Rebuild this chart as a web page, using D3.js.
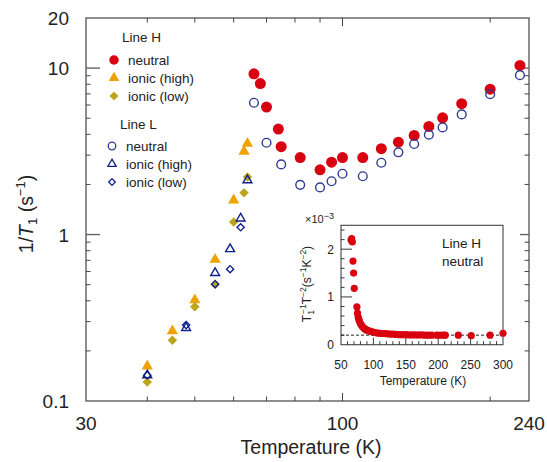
<!DOCTYPE html>
<html><head><meta charset="utf-8">
<script src="https://cdn.jsdelivr.net/npm/d3@7"></script>
<style>body{margin:0;background:#fff}svg{display:block}text{font-family:"Liberation Sans",Arial,sans-serif;fill:#222}</style>
</head><body><svg id="c" width="547" height="462"></svg>
<script>
// ---- data (main panel: 1/T1 in s^-1 vs temperature in K) ----
const hNeutralT = [66,68,70,74,75,82,90,95,100,110,120,130,140,150,160,175,200,230];
const hNeutralV = [9.24,8.08,5.83,4.30,3.37,2.90,2.45,2.72,2.90,2.90,3.28,3.59,3.94,4.46,5.03,6.11,7.47,10.37];
const hHighT = [40,45,50,55,60,63,64];
const hHighV = [0.162,0.263,0.404,0.708,1.61,3.16,3.52];
const hLowT = [40,45,50,55,60,63,64];
const hLowV = [0.130,0.232,0.368,0.503,1.19,1.78,2.22];
const lNeutralT = [66,70,75,82,90,95,100,110,120,130,140,150,160,175,200,230];
const lNeutralV = [6.19,3.56,2.64,1.99,1.92,2.09,2.32,2.24,2.70,3.12,3.50,3.98,4.40,5.27,6.97,9.07];
const lHighT = [40,48,55,59,62,64];
const lHighV = [0.143,0.275,0.588,0.818,1.25,2.12];
const lLowT = [40,48,55,59,62];
const lLowV = [0.143,0.286,0.503,0.619,1.106];
// inset: Line H neutral, T1^-1 T^-2 in units of 1e-3
const insetT = [65.5,66.5,67.5,68.5,69.5,70.5,74.5,75.5,76.5,77.5,78.5,80,81.5,83,85,87,89,91,93,95,98,101,104,107,110,114,118,122,126,130,135,140,145,150,155,160,165,170,175,180,185,190,198,203,208,211,231,251,280,300];
const insetV = [2.19,2.22,2.15,1.75,1.50,1.18,0.79,0.66,0.58,0.53,0.49,0.44,0.41,0.38,0.35,0.33,0.31,0.30,0.29,0.28,0.27,0.26,0.25,0.245,0.24,0.235,0.23,0.225,0.22,0.22,0.215,0.21,0.21,0.21,0.205,0.205,0.205,0.205,0.205,0.20,0.20,0.20,0.20,0.20,0.20,0.20,0.20,0.19,0.20,0.24];
const insetRef = 0.2;
// ticks
const xMajor = [100], xMinor = [40,50,60,70,80,90,200], xLabels = [30,100,240];
const yMajor = [1,10], yMinor = [0.2,0.3,0.4,0.5,0.6,0.7,0.8,0.9,2,3,4,5,6,7,8,9], yLabels = [0.1,1,10,20];
const ixMajor = [100,150,200,250], ixMinor = d3.range(60,300,10).filter(v=>v%50!==0), ixLabels = [50,100,150,200,250,300];
const iyMajor = [1,2], iyMinor = [0.2,0.4,0.6,0.8,1.2,1.4,1.6,1.8,2.2,2.4], iyLabels = [0,1,2];

const RED="#d90010", ORANGE="#eea300", OLIVE="#bba51c", NAVYC="#2f3b92", NAVY="#10208c", AX="#444";
const svg = d3.select("#c");
const x = d3.scaleLog().domain([30,240]).range([86,529]);
const y = d3.scaleLog().domain([0.1,20]).range([401,18]);
const L=86,R=529,T=18,B=401;

// frame
svg.append("rect").attr("x",L).attr("y",T).attr("width",R-L).attr("height",B-T).attr("fill","none").attr("stroke",AX).attr("stroke-width",1.2);
const tk = svg.append("g").attr("stroke",AX).attr("stroke-width",1);
xMinor.forEach(v=>{tk.append("line").attr("x1",x(v)).attr("x2",x(v)).attr("y1",B).attr("y2",B-4.5);
  tk.append("line").attr("x1",x(v)).attr("x2",x(v)).attr("y1",T).attr("y2",T+4.5);});
xMajor.forEach(v=>{tk.append("line").attr("x1",x(v)).attr("x2",x(v)).attr("y1",B).attr("y2",B-8);
  tk.append("line").attr("x1",x(v)).attr("x2",x(v)).attr("y1",T).attr("y2",T+8);});
yMinor.forEach(v=>{tk.append("line").attr("x1",L).attr("x2",L+4.5).attr("y1",y(v)).attr("y2",y(v));
  tk.append("line").attr("x1",R).attr("x2",R-4.5).attr("y1",y(v)).attr("y2",y(v));});
yMajor.forEach(v=>{tk.append("line").attr("x1",L).attr("x2",L+14).attr("y1",y(v)).attr("y2",y(v)).attr("stroke","#666").attr("stroke-width",1.4);
  tk.append("line").attr("x1",R).attr("x2",R-9).attr("y1",y(v)).attr("y2",y(v)).attr("stroke","#666").attr("stroke-width",1.4);});
xLabels.forEach(v=>svg.append("text").attr("x",x(v)).attr("y",430).attr("text-anchor","middle").attr("font-size",19).text(v));
yLabels.forEach(v=>svg.append("text").attr("x",69).attr("y",y(v)+7).attr("text-anchor","end").attr("font-size",19).text(v));
svg.append("text").attr("x",311).attr("y",454).attr("text-anchor","middle").attr("font-size",19.5).text("Temperature (K)");
const yl = svg.append("text").attr("transform","translate(33,214) rotate(-90)").attr("text-anchor","middle").attr("font-size",19.5);
yl.append("tspan").text("1/");
yl.append("tspan").attr("font-style","italic").text("T");
yl.append("tspan").attr("font-size",13).attr("dy",4).text("1");
yl.append("tspan").attr("dy",-4).text(" (s");
yl.append("tspan").attr("font-size",13).attr("dy",-8).text("\u22121");
yl.append("tspan").attr("dy",8).text(")");

// markers
function sym(type,size,rot){const p=d3.symbol().type(type).size(size)();return p;}
function draw(Ts,Vs,type,size,fill,stroke,sw,rot){
  const g=svg.append("g");
  Ts.forEach((t,i)=>g.append("path").attr("d",sym(type,size)).attr("transform",`translate(${x(t)},${y(Vs[i])}) rotate(${rot||0})`)
    .attr("fill",fill).attr("stroke",stroke).attr("stroke-width",sw));
}
draw(hNeutralT,hNeutralV,d3.symbolCircle,95,RED,"none",0);
draw(hHighT,hHighV,d3.symbolTriangle,55,ORANGE,"none",0);
draw(hLowT,hLowV,d3.symbolSquare,45,OLIVE,"none",0,45);
draw(lNeutralT,lNeutralV,d3.symbolCircle,60,"none",NAVYC,1.4);
draw(lHighT,lHighV,d3.symbolTriangle,34,"none",NAVY,1.4);
draw(lLowT,lLowV,d3.symbolSquare,26,"none",NAVY,1.4,45);

// legend
const lg = svg.append("g").attr("font-size",13.5);
function lgItem(yy,type,size,fill,stroke,sw,rot,label,tx){
  lg.append("path").attr("d",sym(type,size)).attr("transform",`translate(${tx-14},${yy}) rotate(${rot||0})`).attr("fill",fill).attr("stroke",stroke).attr("stroke-width",sw);
  lg.append("text").attr("x",tx).attr("y",yy+5).text(label);
}
lg.append("text").attr("x",122).attr("y",42).text("Line H");
lgItem(60,d3.symbolCircle,70,RED,"none",0,0,"neutral",128);
lgItem(78,d3.symbolTriangle,50,ORANGE,"none",0,0,"ionic (high)",128);
lgItem(96,d3.symbolSquare,40,OLIVE,"none",0,45,"ionic (low)",128);
lg.append("text").attr("x",120).attr("y",129).text("Line L");
lgItem(146,d3.symbolCircle,45,"none",NAVYC,1.3,0,"neutral",126);
lgItem(164,d3.symbolTriangle,30,"none",NAVY,1.3,0,"ionic (high)",126);
lgItem(182,d3.symbolSquare,22,"none",NAVY,1.3,45,"ionic (low)",126);

// inset
const ix = d3.scaleLinear().domain([50,300]).range([341,503]);
const iy = d3.scaleLinear().domain([0,2.5]).range([344.7,225.3]);
const IL=341,IR=503,IT=225.3,IB=344.7;
svg.append("rect").attr("x",IL).attr("y",IT).attr("width",IR-IL).attr("height",IB-IT).attr("fill","#fff").attr("stroke",AX).attr("stroke-width",1.1);
const it = svg.append("g").attr("stroke","#222").attr("stroke-width",0.9);
ixMinor.forEach(v=>it.append("line").attr("x1",ix(v)).attr("x2",ix(v)).attr("y1",IB).attr("y2",IB-3.5));
ixMajor.forEach(v=>it.append("line").attr("x1",ix(v)).attr("x2",ix(v)).attr("y1",IB).attr("y2",IB-7));
iyMinor.forEach(v=>it.append("line").attr("x1",IL).attr("x2",IL+3.5).attr("y1",iy(v)).attr("y2",iy(v)));
iyMajor.forEach(v=>it.append("line").attr("x1",IL).attr("x2",IL+11).attr("y1",iy(v)).attr("y2",iy(v)));
svg.append("line").attr("x1",ix(50)).attr("x2",ix(300)).attr("y1",iy(insetRef)).attr("y2",iy(insetRef)).attr("stroke","#222").attr("stroke-width",1).attr("stroke-dasharray","3,2");
ixLabels.forEach(v=>svg.append("text").attr("x",ix(v)).attr("y",369).attr("text-anchor","middle").attr("font-size",12).text(v));
iyLabels.forEach(v=>svg.append("text").attr("x",334).attr("y",iy(v)+4.5).attr("text-anchor","end").attr("font-size",12).text(v));
svg.append("text").attr("x",423).attr("y",385).attr("text-anchor","middle").attr("font-size",12).text("Temperature (K)");
const e3 = svg.append("text").attr("x",305).attr("y",223).attr("font-size",11);
e3.append("tspan").text("\u00d710");
e3.append("tspan").attr("font-size",9).attr("dy",-4).text("\u22123");
const il = svg.append("text").attr("transform","translate(311,284) rotate(-90)").attr("text-anchor","middle").attr("font-size",12);
il.append("tspan").text("T");
il.append("tspan").attr("font-size",8.5).attr("dy",3).text("1");
il.append("tspan").attr("font-size",8.5).attr("dy",-8).attr("dx",-4).text("\u22121");
il.append("tspan").attr("dy",5).text("T");
il.append("tspan").attr("font-size",8.5).attr("dy",-5).text("\u22122");
il.append("tspan").attr("dy",5).text("(s");
il.append("tspan").attr("font-size",8.5).attr("dy",-5).text("\u22121");
il.append("tspan").attr("dy",5).text("K");
il.append("tspan").attr("font-size",8.5).attr("dy",-5).text("\u22122");
il.append("tspan").attr("dy",5).text(")");
const ig = svg.append("g");
insetT.forEach((t,i)=>ig.append("circle").attr("cx",ix(t)).attr("cy",iy(insetV[i])).attr("r",3.6).attr("fill",RED));
svg.append("text").attr("x",442).attr("y",248).attr("font-size",13.5).text("Line H");
svg.append("text").attr("x",442).attr("y",266).attr("font-size",13.5).text("neutral");
</script></body></html>
